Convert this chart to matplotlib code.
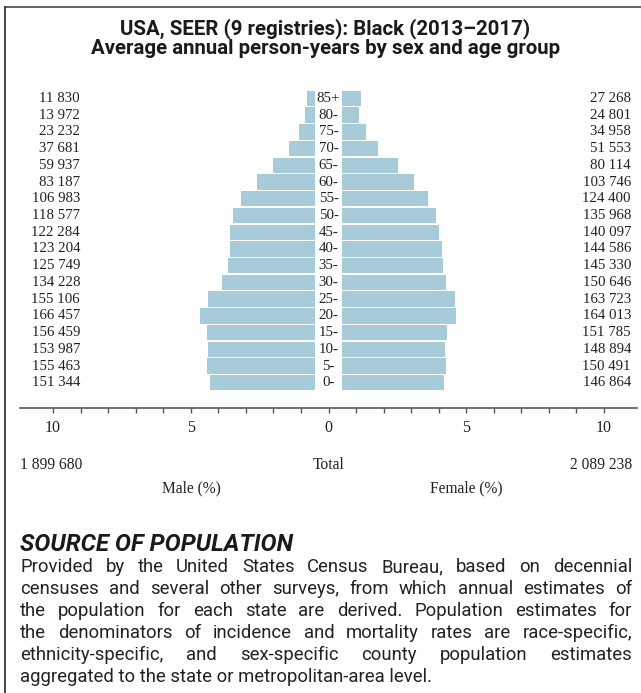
import matplotlib
matplotlib.use('Agg')
import matplotlib.pyplot as plt
import matplotlib.transforms as mtransforms
from matplotlib.lines import Line2D

ages = ['0-', '5-', '10-', '15-', '20-', '25-', '30-', '35-', '40-',
        '45-', '50-', '55-', '60-', '65-', '70-', '75-', '80-', '85+']
male = [151344, 155463, 153987, 156459, 166457, 155106, 134228, 125749, 123204,
        122284, 118577, 106983, 83187, 59937, 37681, 23232, 13972, 11830]
female = [146864, 150491, 148894, 151785, 164013, 163723, 150646, 145330, 144586,
          140097, 135968, 124400, 103746, 80114, 51553, 34958, 24801, 27268]
male_total = 1899680
female_total = 2089238

title = ['USA, SEER (9 registries): Black (2013\u20132017)',
         'Average annual person-years by sex and age group']
source_head = 'SOURCE OF POPULATION'
source_lines = [
    'Provided by the United States Census Bureau, based on decennial',
    'censuses and several other surveys, from which annual estimates of',
    'the population for each state are derived. Population estimates for',
    'the denominators of incidence and mortality rates are race-specific,',
    'ethnicity-specific, and sex-specific county population estimates',
    'aggregated to the state or metropolitan-area level.',
]

W, H = 641, 693
bar_color = '#a7cbd8'
serif = ['Liberation Serif', 'DejaVu Serif']
sans = ['Roboto', 'DejaVu Sans']


def fx(px):
    return px / W


def fy(py):
    return 1 - py / H


def fmt(v):
    return f'{v:,}'.replace(',', ' ')


fig = plt.figure(figsize=(W / 100, H / 100), dpi=100)

# frame (top + left only)
fig.add_artist(Line2D([fx(5), fx(641)], [fy(6.5), fy(6.5)], color='#555555', lw=1.3))
fig.add_artist(Line2D([fx(5), fx(5)], [fy(6.5), fy(693)], color='#333333', lw=1.3))

fig.text(fx(325), fy(29), title[0], ha='center', va='center', fontsize=14.7,
         fontweight='bold', family=sans, color='#1a1a1a')
fig.text(fx(326), fy(49), title[1], ha='center', va='center', fontsize=14.7,
         fontweight='bold', family=sans, color='#1a1a1a')

# pyramid axes
ax_top, ax_bot = 85, 408
ax = fig.add_axes([fx(20), fy(ax_bot), (637 - 20) / W, (ax_bot - ax_top) / H])
grand = male_total + female_total
gap = 0.5
y = list(range(len(ages)))
m_pct = [v / grand * 100 for v in male]
f_pct = [v / grand * 100 for v in female]
ax.barh(y, [-p for p in m_pct], left=-gap, height=0.92, color=bar_color)
ax.barh(y, f_pct, left=gap, height=0.92, color=bar_color)

row = 16.73
ax.set_xlim(-11.2, 11.2)
ax.set_ylim(-(ax_bot - 382.8) / row, 17 + (98.4 - ax_top) / row)

for s in ['top', 'left', 'right']:
    ax.spines[s].set_visible(False)
ax.spines['bottom'].set_color('#555555')
ax.spines['bottom'].set_linewidth(1.2)
ax.set_yticks([])
ax.set_xticks([-10, -5, 0, 5, 10])
ax.set_xticklabels(['10', '5', '0', '5', '10'], family=serif, fontsize=11.5, color='#222222')
ax.set_xticks(list(range(-10, 11)), minor=True)
ax.tick_params(axis='x', which='both', direction='out', length=3.5, width=1,
               color='#555555', pad=5)

trans = mtransforms.blended_transform_factory(fig.transFigure, ax.transData)
for i, a in enumerate(ages):
    ax.text(0, i, a, ha='center', va='center', family=serif, fontsize=10.7, color='#222222')
    ax.text(fx(80), i, fmt(male[i]), transform=trans, ha='right', va='center',
            family=serif, fontsize=10.7, color='#222222')
    ax.text(fx(631), i, fmt(female[i]), transform=trans, ha='right', va='center',
            family=serif, fontsize=10.7, color='#222222')

# totals and axis titles
lab_size = 11.2
fig.text(fx(20), fy(465), fmt(male_total), ha='left', va='center', family=serif,
         fontsize=lab_size, color='#222222')
fig.text(fx(329), fy(465), 'Total', ha='center', va='center', family=serif,
         fontsize=lab_size, color='#222222')
fig.text(fx(632), fy(465), fmt(female_total), ha='right', va='center', family=serif,
         fontsize=lab_size, color='#222222')
fig.text(fx(191), fy(488), 'Male (%)', ha='center', va='center', family=serif,
         fontsize=lab_size, color='#222222')
fig.text(fx(466), fy(488), 'Female (%)', ha='center', va='center', family=serif,
         fontsize=lab_size, color='#222222')

# source block
fig.text(fx(20), fy(551), source_head, ha='left', va='baseline', family=sans,
         fontsize=17.3, fontweight='bold', fontstyle='italic', color='#1a1a1a')

fig.canvas.draw()
renderer = fig.canvas.get_renderer()
x0, x1 = 20, 632
body_size = 13.3
for i, line in enumerate(source_lines):
    yy = fy(572 + i * 21.9)
    if i == len(source_lines) - 1:
        fig.text(fx(x0), yy, line, ha='left', va='baseline', family=sans,
                 fontsize=body_size, color='#222222')
        continue
    words = line.split()
    txts = [fig.text(0, yy, w, ha='left', va='baseline', family=sans,
                     fontsize=body_size, color='#222222') for w in words]
    widths = [t.get_window_extent(renderer).width for t in txts]
    space = (x1 - x0 - sum(widths)) / (len(words) - 1)
    x = x0
    for t, w in zip(txts, widths):
        t.set_x(fx(x))
        x += w + space

fig.savefig('out.png', dpi=100)
